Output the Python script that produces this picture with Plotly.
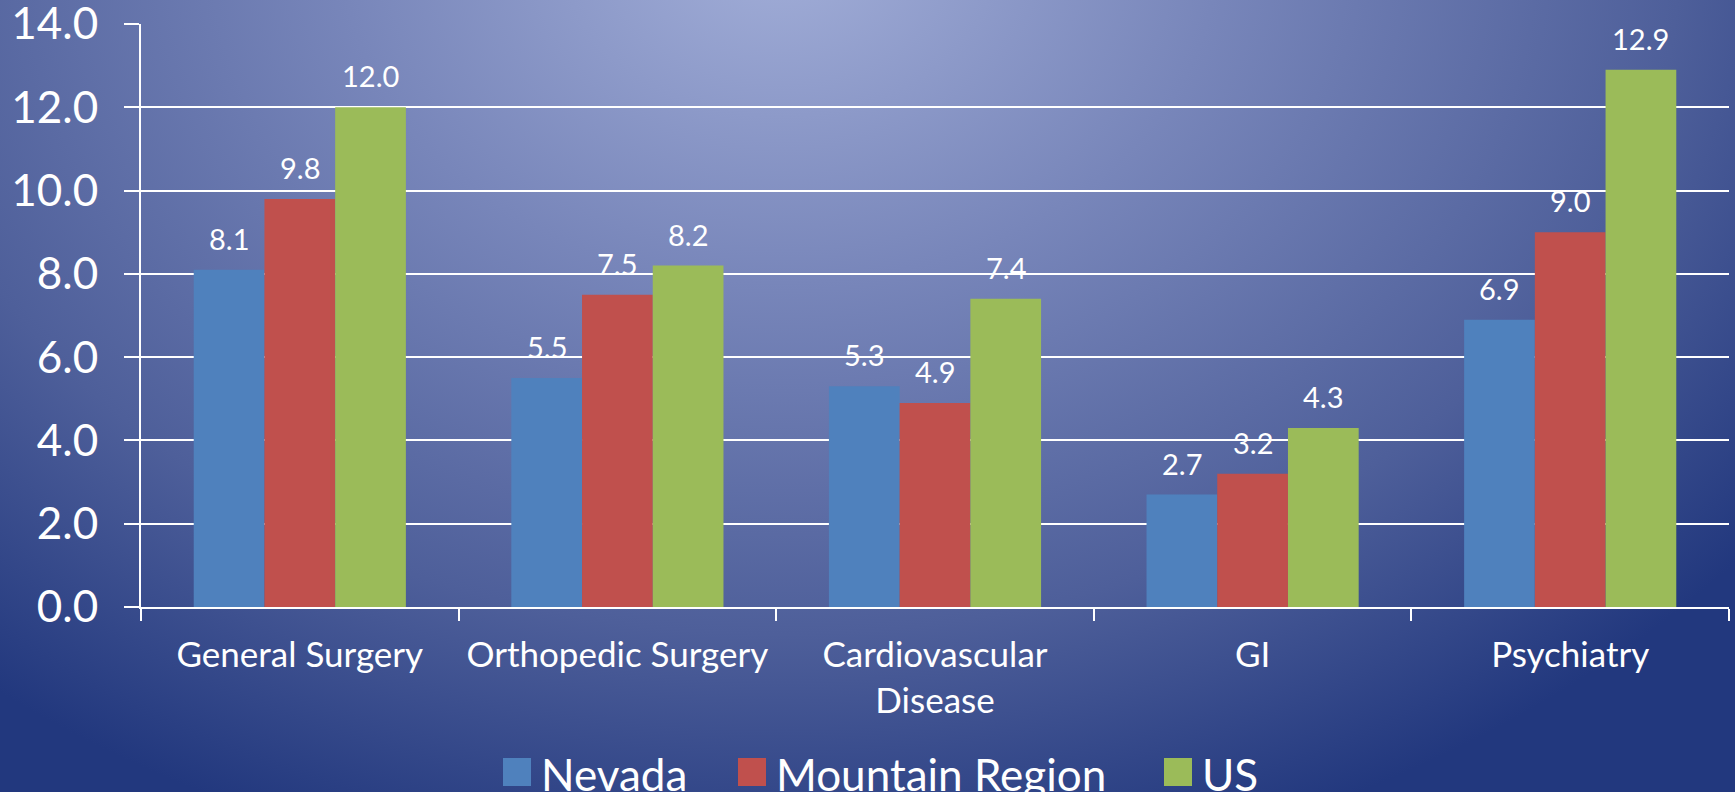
import base64
import plotly.graph_objects as go

# ---- data ----
categories = ["General Surgery", "Orthopedic Surgery", "Cardiovascular<br>Disease", "GI", "Psychiatry"]
series_names = ["Nevada", "Mountain Region", "US"]
nevada = [8.1, 5.5, 5.3, 2.7, 6.9]
mountain = [9.8, 7.5, 4.9, 3.2, 9.0]
us = [12.0, 8.2, 7.4, 4.3, 12.9]
series_values = [nevada, mountain, us]
series_colors = ["#4F81BD", "#C0504D", "#9BBB59"]
y_tick_values = [0, 2, 4, 6, 8, 10, 12, 14]
y_tick_labels = ["0.0", "2.0", "4.0", "6.0", "8.0", "10.0", "12.0", "14.0"]

# ---- layout geometry ----
W, H = 1735, 792
L, R, T, B = 141, 6, 24, 185
PW, PH = W - L - R, H - T - B
BARGAP = 0.332
FONT = "Lato"

def px_x(x):
    return (x - L) / PW

def px_y(y):
    return (H - B - y) / PH

# background gradient as svg
svg = f'''<svg xmlns="http://www.w3.org/2000/svg" width="{W}" height="{H}" viewBox="0 0 {W} {H}" preserveAspectRatio="none">
<defs><radialGradient id="g" gradientUnits="userSpaceOnUse" cx="0" cy="0" r="1"
 gradientTransform="translate(780,-50) scale(1250,950)">
<stop offset="0" stop-color="#A2AED8"/>
<stop offset="0.35" stop-color="#7886BA"/>
<stop offset="0.72" stop-color="#4E5F9A"/>
<stop offset="1" stop-color="#22387E"/>
</radialGradient></defs>
<rect x="0" y="0" width="{W}" height="{H}" fill="url(#g)"/>
</svg>'''
bg_src = "data:image/svg+xml;base64," + base64.b64encode(svg.encode()).decode()

fig = go.Figure()
for name, vals, col in zip(series_names, series_values, series_colors):
    fig.add_trace(go.Bar(x=categories, y=vals, name=name, marker=dict(color=col, line=dict(width=0)),
                         showlegend=False))

# data labels
bar_w = PW / len(categories) * (1 - BARGAP) / len(series_names)
annotations = []
for i, vals in enumerate(series_values):
    for c, v in zip(categories, vals):
        annotations.append(dict(x=c, y=v, xref="x", yref="y", text=f"{v:.1f}", showarrow=False,
                                xshift=(i - 1) * bar_w, yanchor="bottom", yshift=12,
                                font=dict(family=FONT, size=29, color="white")))

# legend (manual, to get large swatches)
legend_swatch_x = [503, 738, 1164]
sw = 28
sw_top = 758
for name, col, sx in zip(series_names, series_colors, legend_swatch_x):
    fig.add_shape(type="rect", xref="paper", yref="paper", x0=px_x(sx), x1=px_x(sx + sw),
                  y0=px_y(sw_top + sw), y1=px_y(sw_top), fillcolor=col, line=dict(width=0), layer="above")
    annotations.append(dict(x=px_x(sx + sw + 8), y=px_y(sw_top + sw / 2 + 2), xref="paper", yref="paper",
                            text=name, showarrow=False, xanchor="left", yanchor="middle",
                            font=dict(family=FONT, size=44, color="white")))

fig.update_layout(
    width=W, height=H,
    margin=dict(l=L, r=R, t=T, b=B, pad=0, autoexpand=False),
    paper_bgcolor="#4E5F9A",
    plot_bgcolor="rgba(0,0,0,0)",
    barmode="group",
    bargap=BARGAP,
    bargroupgap=0,
    showlegend=False,
    annotations=annotations,
    images=[dict(source=bg_src, xref="paper", yref="paper", x=px_x(0), y=px_y(0),
                 sizex=W / PW, sizey=H / PH, sizing="stretch", xanchor="left", yanchor="top",
                 layer="below")],
    font=dict(family=FONT, color="white"),
)
fig.update_yaxes(range=[0, 14], tickvals=y_tick_values, ticktext=y_tick_labels,
                 automargin=False,
                 showgrid=True, gridcolor="white", gridwidth=2,
                 zeroline=False, showline=True, linecolor="white", linewidth=2,
                 ticks="outside", ticklen=15, tickwidth=2, tickcolor="white",
                 ticklabelstandoff=17, ticklabeloverflow="allow",
                 tickfont=dict(family=FONT, size=44, color="white"))
fig.update_xaxes(showline=True, linecolor="white", linewidth=2,
                 automargin=False,
                 ticks="outside", ticklen=12, tickwidth=2, tickcolor="white",
                 tickson="boundaries", showgrid=False,
                 ticklabelstandoff=16,
                 tickfont=dict(family=FONT, size=35, color="white"))

fig.write_html("out.html", config={"displayModeBar": False},
               post_script="document.body.style.margin='0';document.body.style.overflow='hidden';")
